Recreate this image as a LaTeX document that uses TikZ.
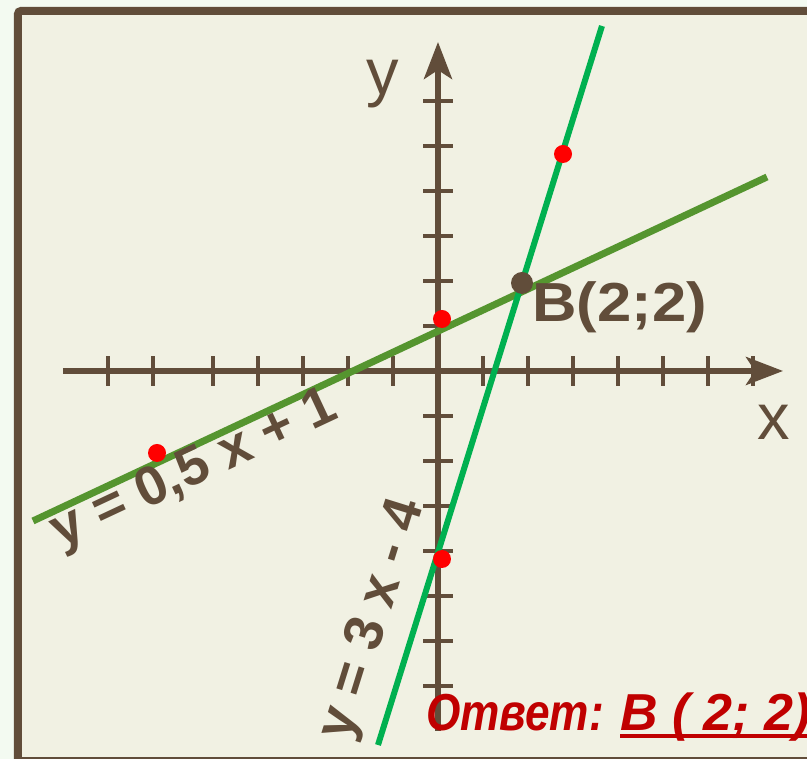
\documentclass[tikz,border=0pt]{standalone}
\usepackage{fontspec}
\setmainfont{Liberation Sans}
\usetikzlibrary{arrows.meta, positioning}
\definecolor{framebrown}{RGB}{97,77,58}
\definecolor{paper}{RGB}{241,241,227}
\definecolor{mintwhite}{RGB}{243,250,241}
\definecolor{olivegreen}{RGB}{85,149,47}
\definecolor{brightgreen}{RGB}{0,176,80}
\definecolor{answerred}{RGB}{192,0,0}

\begin{document}
\begin{tikzpicture}[x=45pt, y=45pt,
  axisline/.style={framebrown, line width=6pt, -{Stealth[length=37pt, width=28pt, inset=9pt]}},
  tickmark/.style={framebrown, line width=4pt},
  axlabel/.style={framebrown, inner sep=0pt, anchor=base west, font=\fontsize{65}{70}\selectfont},
  eqlabel/.style={framebrown, inner sep=0pt, font=\fontsize{55}{60}\selectfont\bfseries},
  answer/.style={answerred, inner sep=0pt, anchor=base west, font=\fontsize{52}{60}\selectfont\bfseries\itshape}]
  \useasboundingbox (-9.733,-8.622) rectangle (8.2,8.244);
  \fill[mintwhite] (-9.733,-8.622) rectangle (8.2,8.244);

  % рамка
  \draw[framebrown, line width=8pt, rounded corners=3pt, fill=paper] (-9.333,8.0) rectangle (8.8,-8.667);

  % оси и деления
  \draw[axisline] (-8.333,0) -- (7.667,0);
  \draw[axisline] (0,-8.0) -- (0,7.311);
  \foreach \x in {-7.333,-6.333,-5,-4,-3,-2,-1,1,2,3,4,5,6,7}
    \draw[tickmark] (\x,-0.333) -- (\x,0.333);
  \foreach \y in {-7,-6,-5,-4,-3,-2,-1,1,2,3,4,5,6}
    \draw[tickmark] (-0.333,\y) -- (0.333,\y);
  \node[axlabel] (ylab) at (-1.6,6.133) {y};
  \node[axlabel] (xlab) at (7.089,-1.533) {x};

  % графики
  \draw[olivegreen, line width=7pt] (-9.0,-3.333) -- (7.311,4.311);
  \draw[brightgreen, line width=6pt] (-1.333,-8.311) -- (3.644,7.667);

  % точки
  \fill[red] (0.089,1.156) circle (0.2);
  \fill[red] (-6.244,-1.822) circle (0.2);
  \fill[red] (0.089,-4.178) circle (0.2);
  \fill[red] (2.778,4.822) circle (0.2);
  \fill[framebrown] (1.867,1.956) circle (0.244);

  % подписи
  \node[eqlabel, anchor=base west, xscale=1.12] (ptB) at (2.09,1.089) {B(2;2)};
  \node[eqlabel, rotate=25.1] (eqa) at (-5.4,-2.22) {y = 0,5 x + 1};
  \node[eqlabel, rotate=72.7] (eqb) at (-1.42,-5.53) {y = 3 x - 4};

  % ответ
  \node[answer, xscale=0.85] (ans) at (-0.27,-8.0) {Ответ:};
  \node[answer, right=16pt of ans.base east, anchor=base west] (ansb) {B ( 2; 2)};
  \draw[answerred, line width=4pt] ([yshift=-5pt]ansb.base west) -- ([yshift=-5pt]ansb.base east);
\end{tikzpicture}
\end{document}
